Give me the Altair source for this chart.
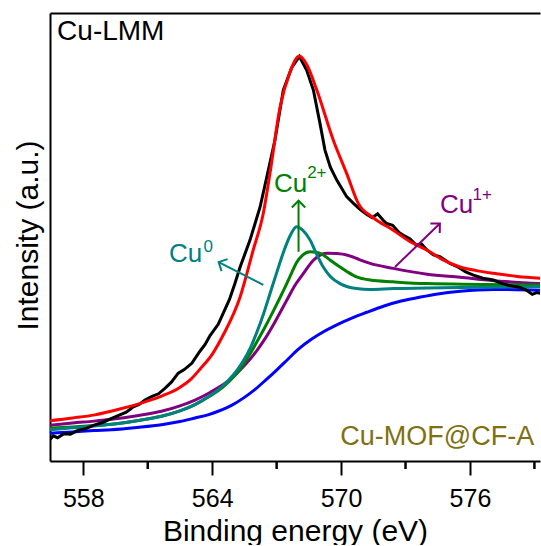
import altair as alt
import pandas as pd

# ---- Cu-LMM Auger spectrum, Cu-MOF@CF-A (binding energy in eV, intensity in a.u.) ----
energy_exp = [556.45, 556.6, 556.8, 557.1, 557.4, 557.77, 558.1, 558.5, 558.9, 559.32,
              559.7, 560.0, 560.3, 560.6, 560.87, 561.2, 561.5, 561.8, 562.1, 562.42,
              562.7, 563.05, 563.43, 563.67, 563.9, 564.28, 564.8, 565.05, 565.3, 565.76,
              566.23, 566.5, 566.92, 567.31, 567.7, 568.06, 568.4, 568.71, 569.02, 569.25,
              569.5, 569.8, 570.26, 570.6, 570.88, 571.2, 571.45, 571.7, 571.95, 572.12,
              572.4, 572.7, 572.9, 573.2, 573.5, 573.75, 574.0, 574.3, 574.6, 575.07,
              575.4, 575.8, 576.16, 576.6, 577.09, 577.5, 577.9, 578.3, 578.64, 578.9,
              579.1, 579.3]
intensity_exp = [4.8, 5.6, 5.2, 6.1, 6.0, 6.9, 7.2, 8.0, 8.6, 9.5,
                 10.3, 10.9, 12.0, 12.6, 13.6, 14.4, 15.0, 16.2, 17.6, 19.6,
                 20.4, 21.8, 24.5, 26.0, 28.0, 30.5, 36.0, 39.5, 43.3, 49.3,
                 56.7, 62.5, 71.6, 82.8, 87.8, 90.3, 87.2, 82.8, 75.3, 69.4,
                 65.6, 62.7, 59.0, 57.4, 56.2, 55.0, 54.3, 55.2, 53.8, 53.0,
                 52.6, 51.0, 50.4, 49.6, 48.2, 48.4, 47.1, 46.0, 45.6, 44.1,
                 43.4, 42.2, 41.5, 40.8, 40.4, 39.6, 39.1, 38.8, 38.1, 37.2,
                 37.6, 37.4]

energy_env = [556.45, 557.5, 558.54, 559.7, 560.87, 561.7, 562.42, 563.0, 563.45, 564.0,
              564.5, 565.3, 565.91, 566.38, 566.69, 567.16, 567.6, 568.06, 568.4, 568.87,
              569.64, 570.26, 570.8, 571.5, 572.43, 573.2, 573.99, 574.7, 575.54, 576.3,
              577.09, 578.2, 579.3]
intensity_env = [9.0, 9.6, 10.3, 11.6, 13.2, 14.6, 16.2, 18.2, 20.6, 23.8,
                 28.0, 36.6, 47.1, 55.3, 64.2, 79.0, 86.5, 90.4, 88.5, 82.8,
                 71.6, 64.2, 57.5, 54.3, 51.5, 49.0, 47.1, 45.0, 43.3, 42.5,
                 41.9, 41.2, 40.8]

energy_cu0 = [556.45, 557.5, 558.5, 559.32, 560.5, 561.64, 562.5, 563.2, 563.9, 564.5,
              565.0, 565.4, 565.8, 566.1, 566.4, 566.7, 567.0, 567.31, 567.6, 567.93,
              568.2, 568.56, 568.85, 569.17, 569.5, 569.95, 570.3, 570.72, 571.35, 572.43,
              574.0, 575.54, 579.3]
intensity_cu0 = [7.0, 7.4, 7.8, 8.2, 9.0, 10.0, 11.2, 12.6, 14.6, 16.8,
                 19.3, 22.0, 25.5, 29.0, 33.0, 37.5, 42.0, 46.5, 50.0, 52.3,
                 51.6, 49.3, 46.3, 43.3, 41.2, 39.6, 38.9, 38.5, 38.3, 38.5,
                 38.6, 38.7, 38.9]

energy_cu2 = [556.45, 557.5, 558.5, 559.32, 560.5, 561.64, 562.5, 563.2, 563.9, 564.5,
              565.0, 565.4, 565.8, 566.1, 566.45, 566.85, 567.16, 567.46, 567.7, 567.93,
              568.2, 568.56, 568.85, 569.17, 569.5, 569.95, 570.3, 570.72, 571.35, 572.43,
              573.99, 579.3]
intensity_cu2 = [7.3, 7.6, 7.9, 8.2, 9.0, 10.0, 11.2, 12.6, 14.5, 16.5,
                 18.8, 21.2, 24.2, 26.8, 29.8, 33.5, 36.5, 39.5, 42.0, 44.3,
                 45.9, 46.7, 46.6, 46.0, 44.8, 43.3, 42.2, 41.1, 40.4, 40.0,
                 39.6, 39.3]

energy_cu1 = [556.45, 557.5, 558.5, 559.32, 560.5, 561.64, 562.5, 563.2, 563.9, 564.5,
              565.0, 565.5, 566.07, 566.5, 566.85, 567.2, 567.54, 567.8, 568.24, 568.71,
              569.0, 569.33, 569.8, 570.26, 570.88, 571.35, 572.43, 574.0, 575.54, 577.0,
              579.3]
intensity_cu1 = [8.0, 8.5, 8.9, 9.3, 10.1, 11.1, 12.3, 13.6, 15.3, 17.0,
                 18.9, 21.3, 24.6, 27.6, 30.4, 33.5, 36.5, 38.8, 41.8, 44.8,
                 45.9, 46.4, 46.3, 46.0, 44.9, 44.1, 43.0, 41.7, 41.0, 40.3,
                 39.6]

energy_bg = [556.45, 557.5, 558.5, 559.32, 560.5, 561.64, 562.5, 563.2, 563.8, 564.28,
             564.9, 565.5, 566.0, 566.5, 567.0, 567.5, 568.0, 568.6, 569.2, 569.8,
             570.5, 571.2, 572.0, 572.8, 573.6, 574.5, 575.54, 577.09, 579.3]
intensity_bg = [6.2, 6.5, 6.8, 7.0, 7.5, 8.1, 8.8, 9.6, 10.3, 11.1,
                12.4, 14.2, 16.0, 18.1, 20.3, 22.6, 24.9, 27.1, 28.9, 30.4,
                31.9, 33.2, 34.6, 35.7, 36.5, 37.3, 37.9, 38.3, 38.1]

# drawing order: first is drawn at the bottom; fitted curves are smooth, the data is raw
series = [
    ("Background", energy_bg, intensity_bg, "#0000FF", "monotone"),
    ("Cu1+", energy_cu1, intensity_cu1, "#800080", "monotone"),
    ("Cu2+", energy_cu2, intensity_cu2, "#008000", "monotone"),
    ("Cu0", energy_cu0, intensity_cu0, "#008080", "monotone"),
    ("Experimental", energy_exp, intensity_exp, "#000000", "linear"),
    ("Envelope", energy_env, intensity_env, "#FF0000", "monotone"),
]

# species labels: main text, superscript, and an arrow pointing away from the component
label_main = ["Cu", "Cu", "Cu"]
label_sup = ["0", "2+", "1+"]
label_color = ["#008080", "#008000", "#800080"]
label_ev = [561.99, 566.88, 574.6]
label_int = [44.5, 60.1, 55.3]
sup_ev = [563.6, 568.42, 576.12]
sup_int = [46.7, 63.1, 58.2]
arrow_tail_ev = [566.38, 568.02, 572.51]
arrow_tail_int = [39.3, 46.7, 43.3]
arrow_head_ev = [564.3, 568.02, 574.6]
arrow_head_int = [44.4, 58.1, 53.0]
arrow_angle = [297, 0, 46]

# axis ticks: labelled every 6 eV, unlabelled halfway between
major_ticks = [558, 564, 570, 576]
minor_ticks = [561, 567, 573, 579]

FONT = "Liberation Sans"
x_domain = [556.45, 579.26]
xs = alt.Scale(domain=x_domain, nice=False, zero=False)
ys = alt.Scale(domain=[0, 100], nice=False, zero=False)

y_axis = alt.Axis(title="Intensity (a.u.)", ticks=False, labels=False, grid=False,
                  domain=True, domainColor="black", domainWidth=2,
                  titleFont=FONT, titleFontSize=30, titleFontWeight="normal",
                  titleColor="black", titleAngle=270, titleX=-22, titleY=222,
                  titleAlign="center", titleBaseline="middle")

x_axis = alt.Axis(orient="bottom", values=major_ticks, format="d", grid=False,
                  tickSize=14, tickWidth=2, tickColor="black",
                  domain=True, domainColor="black", domainWidth=2,
                  labelFont=FONT, labelFontSize=25, labelColor="black", labelPadding=11,
                  title="Binding energy (eV)", titleFont=FONT, titleFontSize=30,
                  titleFontWeight="normal", titleColor="black",
                  titleY=79, titleBaseline="alphabetic")

top_axis = alt.Axis(orient="top", grid=False, labels=False, ticks=False,
                    domain=True, domainColor="black", domainWidth=2, title=None)

layers = []
for i, (name, ev, inten, color, interp) in enumerate(series):
    df = pd.DataFrame({"ev": ev, "intensity": inten})
    layers.append(
        alt.Chart(df).mark_line(color=color, strokeWidth=3, clip=True,
                                interpolate=interp).encode(
            x=alt.X("ev:Q", scale=xs, axis=x_axis if i == 0 else None),
            y=alt.Y("intensity:Q", scale=ys, axis=y_axis),
        )
    )

frame_df = pd.DataFrame({"ev": energy_exp, "intensity": intensity_exp})
layers.append(
    alt.Chart(frame_df).mark_line(opacity=0).encode(
        x=alt.X("ev:Q", scale=xs, axis=top_axis),
        y=alt.Y("intensity:Q", scale=ys, axis=y_axis),
    )
)

# short unlabelled ticks below the bottom frame line
minor_df = pd.DataFrame({"ev": minor_ticks})
layers.append(
    alt.Chart(minor_df).mark_rule(color="black", strokeWidth=2.5, clip=False).encode(
        x=alt.X("ev:Q", scale=xs, axis=None),
        y=alt.value(448),
        y2=alt.value(456),
    )
)

for k in range(3):
    arrow_df = pd.DataFrame({"ev": [arrow_tail_ev[k]], "intensity": [arrow_tail_int[k]],
                             "ev2": [arrow_head_ev[k]], "intensity2": [arrow_head_int[k]]})
    layers.append(
        alt.Chart(arrow_df).mark_rule(color=label_color[k], strokeWidth=2).encode(
            x=alt.X("ev:Q", scale=xs, axis=None),
            y=alt.Y("intensity:Q", scale=ys, axis=y_axis),
            x2="ev2:Q", y2="intensity2:Q",
        )
    )
    layers.append(
        alt.Chart(arrow_df).mark_point(shape="M-1,1L0,0L1,1", filled=False, size=180,
                                       strokeWidth=2, color=label_color[k],
                                       angle=arrow_angle[k], opacity=1).encode(
            x=alt.X("ev2:Q", scale=xs, axis=None),
            y=alt.Y("intensity2:Q", scale=ys, axis=y_axis),
        )
    )
    main_df = pd.DataFrame({"ev": [label_ev[k]], "intensity": [label_int[k]], "t": [label_main[k]]})
    layers.append(
        alt.Chart(main_df).mark_text(font=FONT, fontSize=26, color=label_color[k],
                                     align="left", baseline="alphabetic").encode(
            x=alt.X("ev:Q", scale=xs, axis=None),
            y=alt.Y("intensity:Q", scale=ys, axis=y_axis),
            text="t:N",
        )
    )
    sup_df = pd.DataFrame({"ev": [sup_ev[k]], "intensity": [sup_int[k]], "t": [label_sup[k]]})
    layers.append(
        alt.Chart(sup_df).mark_text(font=FONT, fontSize=17, color=label_color[k],
                                    align="left", baseline="alphabetic").encode(
            x=alt.X("ev:Q", scale=xs, axis=None),
            y=alt.Y("intensity:Q", scale=ys, axis=y_axis),
            text="t:N",
        )
    )

# panel captions
title_df = pd.DataFrame({"ev": [556.78], "intensity": [93.9], "t": ["Cu-LMM"]})
layers.append(
    alt.Chart(title_df).mark_text(font=FONT, fontSize=28, color="black",
                                  align="left", baseline="alphabetic").encode(
        x=alt.X("ev:Q", scale=xs, axis=None),
        y=alt.Y("intensity:Q", scale=ys, axis=y_axis),
        text="t:N",
    )
)
sample_df = pd.DataFrame({"ev": [578.99], "intensity": [3.6], "t": ["Cu-MOF@CF-A"]})
layers.append(
    alt.Chart(sample_df).mark_text(font=FONT, fontSize=27, color="#807010",
                                   align="right", baseline="alphabetic").encode(
        x=alt.X("ev:Q", scale=xs, axis=None),
        y=alt.Y("intensity:Q", scale=ys, axis=y_axis),
        text="t:N",
    )
)

chart = alt.layer(*layers).resolve_axis(x="independent").properties(
    width=490, height=448,
    autosize=alt.AutoSizeParams(type="none"),
    padding={"left": 50, "top": 13, "right": 1, "bottom": 84},
    background="white",
).configure_view(stroke=None)

chart.save("out.html", embed_options={"renderer": "svg", "actions": False})
